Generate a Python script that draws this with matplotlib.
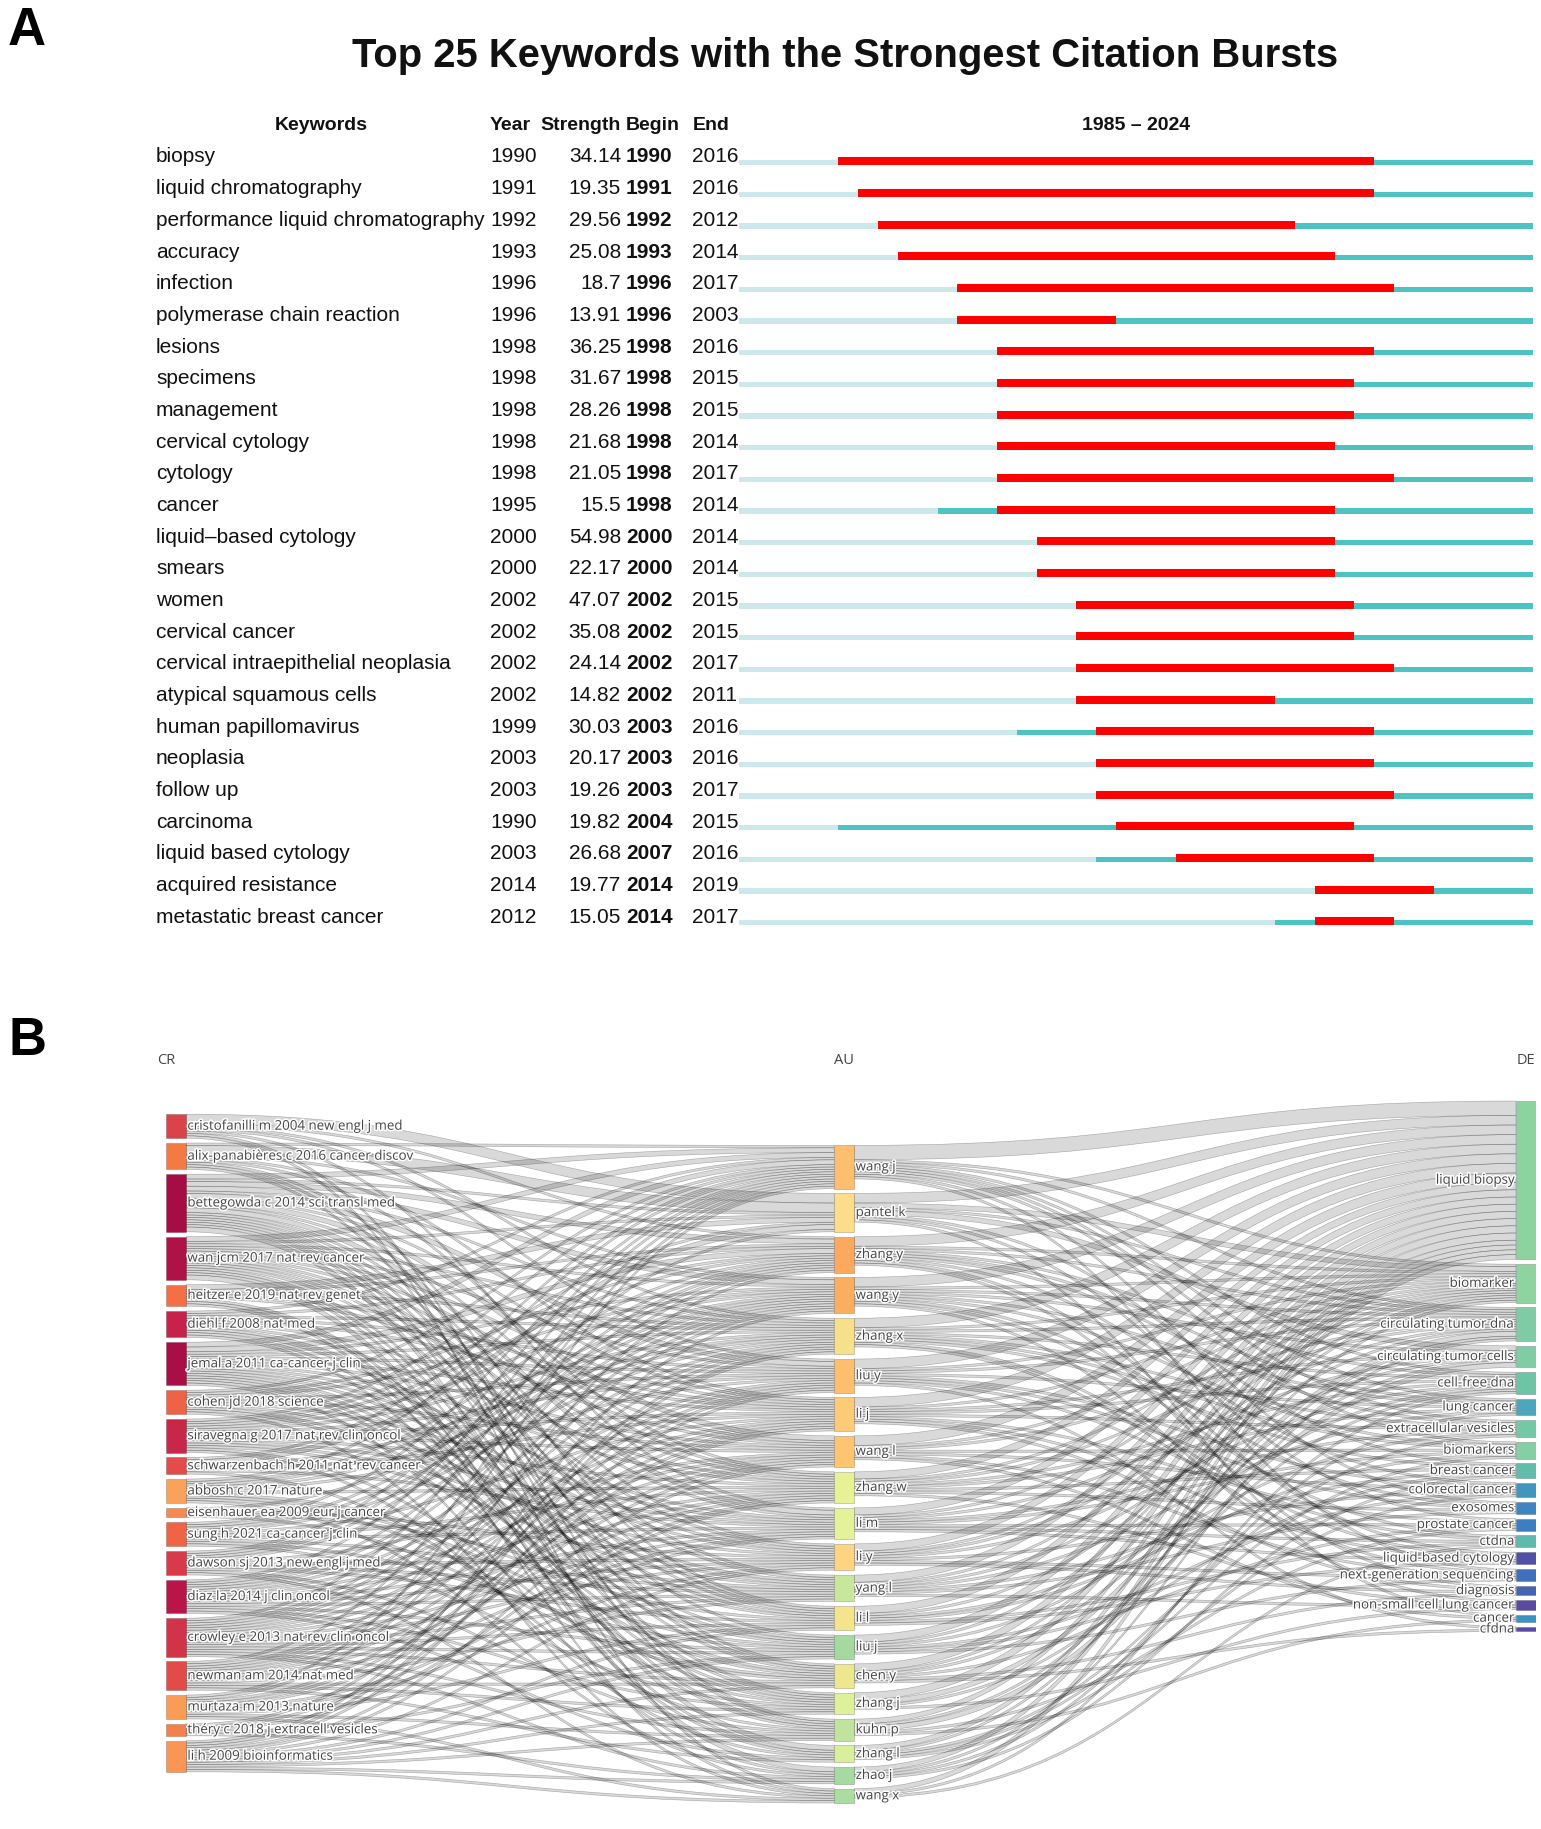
import numpy as np
import matplotlib
matplotlib.use("Agg")
import matplotlib.pyplot as plt
import matplotlib.transforms as mtransforms
import matplotlib.patheffects as pe
from matplotlib.path import Path
from matplotlib.patches import PathPatch, Rectangle

# ---------------- panel A data ----------------
keywords = ["biopsy", "liquid chromatography", "performance liquid chromatography", "accuracy",
            "infection", "polymerase chain reaction", "lesions", "specimens", "management",
            "cervical cytology", "cytology", "cancer", "liquid\u2013based cytology", "smears",
            "women", "cervical cancer", "cervical intraepithelial neoplasia",
            "atypical squamous cells", "human papillomavirus", "neoplasia", "follow up",
            "carcinoma", "liquid based cytology", "acquired resistance", "metastatic breast cancer"]
kw_year = [1990, 1991, 1992, 1993, 1996, 1996, 1998, 1998, 1998, 1998, 1998, 1995, 2000,
           2000, 2002, 2002, 2002, 2002, 1999, 2003, 2003, 1990, 2003, 2014, 2012]
kw_strength = [34.14, 19.35, 29.56, 25.08, 18.7, 13.91, 36.25, 31.67, 28.26, 21.68, 21.05,
               15.5, 54.98, 22.17, 47.07, 35.08, 24.14, 14.82, 30.03, 20.17, 19.26, 19.82,
               26.68, 19.77, 15.05]
kw_begin = [1990, 1991, 1992, 1993, 1996, 1996, 1998, 1998, 1998, 1998, 1998, 1998, 2000,
            2000, 2002, 2002, 2002, 2002, 2003, 2003, 2003, 2004, 2007, 2014, 2014]
kw_end = [2016, 2016, 2012, 2014, 2017, 2003, 2016, 2015, 2015, 2014, 2017, 2014, 2014,
          2014, 2015, 2015, 2017, 2011, 2016, 2016, 2017, 2015, 2016, 2019, 2017]
span_start, span_end = 1985, 2024

# ---------------- panel B data ----------------
cr_names = ["cristofanilli m 2004 new engl j med", "alix-panabières c 2016 cancer discov",
            "bettegowda c 2014 sci transl med", "wan jcm 2017 nat rev cancer",
            "heitzer e 2019 nat rev genet", "diehl f 2008 nat med", "jemal a 2011 ca-cancer j clin",
            "cohen jd 2018 science", "siravegna g 2017 nat rev clin oncol",
            "schwarzenbach h 2011 nat rev cancer", "abbosh c 2017 nature",
            "eisenhauer ea 2009 eur j cancer", "sung h 2021 ca-cancer j clin",
            "dawson sj 2013 new engl j med", "diaz la 2014 j clin oncol",
            "crowley e 2013 nat rev clin oncol", "newman am 2014 nat med",
            "murtaza m 2013 nature", "théry c 2018 j extracell vesicles", "li h 2009 bioinformatics"]
cr_colors = ["#D9444B", "#F47A44", "#A50D44", "#AE1247", "#F46F43", "#C6224A", "#A90F47",
             "#EE6345", "#C92748", "#E34D47", "#FBA25A", "#F48A4F", "#EF6445", "#D83A4A",
             "#B91548", "#D0334A", "#E14B48", "#F99C56", "#F4814B", "#F99655"]

au_names = ["wang j", "pantel k", "zhang y", "wang y", "zhang x", "liu y", "li j", "wang l",
            "zhang w", "li m", "li y", "yang l", "li l", "liu j", "chen y", "zhang j", "kuhn p",
            "zhang l", "zhao j", "wang x"]
au_colors = ["#FDBF6F", "#FBDD8B", "#FCA85E", "#FCAE60", "#F6E08C", "#FDBF6D", "#FDCB78",
             "#FDC472", "#E9F197", "#E4F29A", "#FDD582", "#C6E79C", "#F4E48C", "#A4DA9F",
             "#EFE78F", "#DEF09A", "#C0E49E", "#D9EF9B", "#A5DAA0", "#ABDCA0"]

de_names = ["liquid biopsy", "biomarker", "circulating tumor dna", "circulating tumor cells",
            "cell-free dna", "lung cancer", "extracellular vesicles", "biomarkers",
            "breast cancer", "colorectal cancer", "exosomes", "prostate cancer", "ctdna",
            "liquid-based cytology", "next-generation sequencing", "diagnosis",
            "non-small cell lung cancer", "cancer", "cfdna"]
de_colors = ["#8DD3A0", "#8FD4A0", "#7ECBA5", "#7FCCA5", "#6EC5A5", "#4EA6BC", "#75C8A5",
             "#84CFA3", "#62BCAB", "#4196C0", "#3F86C0", "#3D7EC0", "#5EBAAD", "#5050A8",
             "#416FBB", "#4565B3", "#5B4AA3", "#3A93C0", "#5A4CA4"]

# link weights, rows = cited reference, columns = author (order as au_names)
cr_au = np.array([
    [0, 4, 1, 0, 1, 1, 0, 0, 0, 1, 0, 0, 0, 0, 0, 0, 1, 0, 0, 1],
    [1, 4, 0, 1, 0, 0, 1, 0, 1, 0, 0, 0, 1, 0, 1, 0, 1, 0, 0, 0],
    [2, 1, 2, 2, 1, 2, 1, 2, 1, 2, 1, 1, 1, 1, 1, 1, 0, 2, 0, 0],
    [2, 1, 0, 1, 1, 1, 1, 1, 1, 1, 1, 1, 1, 0, 1, 1, 1, 0, 2, 0],
    [0, 2, 1, 0, 1, 0, 1, 1, 0, 0, 0, 0, 0, 0, 0, 0, 1, 1, 0, 1],
    [1, 0, 1, 0, 1, 1, 1, 0, 1, 0, 1, 0, 1, 1, 0, 1, 0, 1, 0, 0],
    [2, 0, 2, 1, 1, 1, 1, 1, 1, 1, 1, 1, 1, 1, 1, 1, 0, 0, 1, 0],
    [1, 0, 1, 1, 0, 1, 0, 1, 0, 1, 0, 1, 0, 1, 1, 0, 0, 0, 0, 1],
    [1, 1, 1, 1, 1, 1, 1, 1, 1, 1, 1, 1, 0, 0, 0, 1, 0, 1, 0, 0],
    [1, 2, 0, 0, 1, 0, 1, 0, 0, 1, 0, 0, 0, 0, 0, 0, 1, 0, 0, 0],
    [1, 0, 1, 1, 1, 1, 0, 0, 1, 0, 0, 0, 1, 1, 1, 0, 0, 0, 1, 0],
    [0, 0, 0, 1, 0, 0, 0, 0, 0, 0, 1, 1, 0, 0, 1, 0, 0, 0, 0, 0],
    [1, 0, 1, 1, 1, 0, 1, 0, 1, 1, 0, 1, 0, 1, 0, 1, 0, 0, 0, 0],
    [1, 1, 1, 1, 0, 0, 0, 1, 0, 0, 1, 1, 1, 0, 0, 0, 1, 0, 0, 1],
    [1, 0, 1, 1, 1, 1, 1, 1, 1, 1, 1, 1, 0, 1, 0, 1, 0, 1, 0, 0],
    [1, 0, 1, 1, 1, 1, 1, 1, 1, 1, 1, 1, 1, 1, 1, 0, 1, 0, 1, 0],
    [1, 0, 0, 1, 1, 1, 1, 1, 1, 1, 0, 1, 0, 0, 1, 1, 0, 1, 0, 0],
    [1, 0, 1, 0, 0, 1, 1, 1, 0, 1, 1, 0, 1, 0, 0, 0, 1, 0, 0, 1],
    [0, 0, 0, 0, 1, 0, 1, 0, 1, 0, 0, 0, 0, 1, 0, 0, 0, 0, 1, 0],
    [0, 0, 0, 1, 1, 1, 0, 1, 1, 0, 1, 0, 1, 1, 1, 1, 1, 0, 1, 1],
])

# rows = author, columns = keyword (order as de_names)
au_de = np.array([
    [6, 1, 1, 0, 1, 1, 1, 1, 0, 0, 1, 0, 0, 0, 1, 0, 0, 0, 0],
    [4, 2, 1, 2, 0, 0, 0, 0, 1, 0, 0, 1, 0, 0, 0, 0, 0, 1, 0],
    [4, 1, 1, 0, 1, 1, 1, 0, 0, 1, 0, 0, 0, 1, 0, 1, 0, 0, 0],
    [4, 1, 1, 1, 0, 1, 0, 1, 0, 0, 1, 0, 1, 0, 0, 0, 1, 0, 0],
    [4, 1, 1, 0, 1, 0, 1, 1, 1, 0, 0, 0, 0, 1, 1, 0, 0, 0, 0],
    [4, 1, 1, 0, 0, 1, 0, 0, 0, 1, 1, 0, 1, 0, 0, 0, 0, 0, 1],
    [4, 1, 0, 1, 1, 0, 1, 0, 0, 0, 0, 1, 0, 1, 0, 1, 0, 0, 0],
    [4, 1, 1, 0, 0, 0, 0, 1, 0, 1, 0, 0, 0, 0, 1, 0, 0, 1, 0],
    [3, 1, 1, 0, 1, 1, 0, 0, 1, 0, 1, 0, 0, 0, 0, 0, 1, 0, 0],
    [3, 1, 0, 1, 0, 0, 1, 1, 0, 0, 0, 1, 1, 1, 0, 0, 0, 0, 0],
    [3, 1, 1, 0, 1, 0, 0, 0, 0, 1, 0, 0, 0, 0, 1, 1, 0, 0, 0],
    [3, 1, 0, 1, 0, 1, 0, 0, 1, 0, 1, 0, 0, 0, 0, 0, 1, 0, 0],
    [3, 0, 1, 0, 0, 0, 1, 1, 0, 0, 0, 0, 1, 1, 0, 0, 0, 0, 0],
    [3, 1, 0, 0, 1, 0, 0, 0, 0, 1, 0, 1, 0, 0, 1, 0, 0, 0, 0],
    [3, 1, 0, 1, 0, 0, 0, 0, 1, 0, 0, 0, 0, 0, 0, 1, 0, 0, 1],
    [3, 0, 2, 0, 1, 0, 0, 0, 0, 0, 0, 0, 0, 0, 0, 0, 1, 0, 0],
    [2, 0, 1, 2, 0, 0, 0, 0, 0, 0, 0, 1, 0, 0, 0, 0, 0, 1, 0],
    [2, 1, 0, 0, 0, 0, 1, 1, 0, 1, 0, 0, 0, 0, 0, 0, 0, 0, 0],
    [2, 0, 1, 0, 0, 1, 0, 0, 1, 0, 0, 0, 0, 0, 0, 0, 0, 0, 0],
    [2, 0, 0, 0, 1, 0, 0, 0, 0, 0, 0, 0, 1, 0, 0, 0, 0, 0, 0],
])

W, H = 1541, 1829
fig = plt.figure(figsize=(W / 100, H / 100), dpi=100)
fig.patch.set_facecolor("white")


def fx(px):
    return px / W


def fy(py):
    return 1 - py / H


# ================= Panel A =================
fig.text(fx(8), fy(6), "A", fontsize=38, fontweight="bold", va="top", ha="left",
         family="Liberation Sans")
fig.text(fx(845), fy(56), "Top 25 Keywords with the Strongest Citation Bursts", fontsize=28.8,
         fontweight="bold", va="center", ha="center", family="Liberation Sans", color="#111111")

row_px = 31.67
top_px = 157 - row_px / 2
n = len(keywords)
ax_a = fig.add_axes([fx(739), fy(top_px + n * row_px), fx(1533) - fx(739), n * row_px / H])
ax_a.set_xlim(span_start, span_end + 1)
ax_a.set_ylim(n - 0.5, -0.5)
ax_a.axis("off")

light = "#CDE8EB"
teal = "#4EC3C3"
red = "#FF0000"
for i in range(n):
    ax_a.barh(i + 0.18, kw_year[i] - span_start, left=span_start, height=0.17, color=light, lw=0)
    ax_a.barh(i + 0.18, span_end + 1 - kw_year[i], left=kw_year[i], height=0.17, color=teal, lw=0)
    ax_a.barh(i + 0.136, kw_end[i] + 1 - kw_begin[i], left=kw_begin[i], height=0.25, color=red, lw=0)

tr = mtransforms.blended_transform_factory(fig.transFigure, ax_a.transData)
tfont = dict(family="Liberation Sans", fontsize=15, va="center", color="#111111")
for i in range(n):
    ax_a.text(fx(156), i, keywords[i], transform=tr, ha="left", **tfont)
    ax_a.text(fx(490), i, str(kw_year[i]), transform=tr, ha="left", **tfont)
    ax_a.text(fx(621), i, f"{kw_strength[i]:g}", transform=tr, ha="right", **tfont)
    ax_a.text(fx(626), i, str(kw_begin[i]), transform=tr, ha="left", fontweight="bold", **tfont)
    ax_a.text(fx(692), i, str(kw_end[i]), transform=tr, ha="left", **tfont)

hfont = dict(family="Liberation Sans", fontsize=14, va="center", fontweight="bold", color="#111111")
hy = -1.01
ax_a.text(fx(321), hy, "Keywords", transform=tr, ha="center", **hfont)
ax_a.text(fx(490), hy, "Year", transform=tr, ha="left", **hfont)
ax_a.text(fx(540), hy, "Strength", transform=tr, ha="left", **hfont)
ax_a.text(fx(626), hy, "Begin", transform=tr, ha="left", **hfont)
ax_a.text(fx(693), hy, "End", transform=tr, ha="left", **hfont)
ax_a.text((span_start + span_end + 1) / 2, hy, f"{span_start} \u2013 {span_end}", ha="center", **hfont)

# ================= Panel B =================
fig.text(fx(8), fy(1016), "B", fontsize=38, fontweight="bold", va="top", ha="left",
         family="Liberation Sans")

px_unit = 2.4
b_top, b_bot = 1095, 1826
node_w = 0.0297
col_x = [0.0, 0.99, 2.0]
ax_b = fig.add_axes([fx(166), fy(b_bot), fx(1536) - fx(166), (b_bot - b_top) / H])
ax_b.set_xlim(0, 2 + node_w)
ax_b.set_ylim((b_bot - b_top) / px_unit, 0)
ax_b.axis("off")

pad = 2.0
col_top = [8.0, 21.0, 2.5]
cr_val = cr_au.sum(axis=1)
au_val = np.maximum(cr_au.sum(axis=0), au_de.sum(axis=1))
de_val = au_de.sum(axis=0)


def stack(vals, top):
    return top + np.concatenate([[0], np.cumsum(vals[:-1] + pad)])


cr_y = stack(cr_val, col_top[0])
au_y = stack(au_val, col_top[1])
de_y = stack(de_val, col_top[2])

link_face = (0.0, 0.0, 0.0, 0.15)
link_edge = (0.0, 0.0, 0.0, 0.30)


def draw_links(mat, src_y, dst_y, x0, x1):
    out_off = src_y.astype(float).copy()
    in_off = dst_y.astype(float).copy()
    xm = (x0 + x1) / 2
    for s in range(mat.shape[0]):
        for t in range(mat.shape[1]):
            v = mat[s, t]
            if v <= 0:
                continue
            ys, yt = out_off[s], in_off[t]
            verts = [(x0, ys), (xm, ys), (xm, yt), (x1, yt), (x1, yt + v),
                     (xm, yt + v), (xm, ys + v), (x0, ys + v), (x0, ys)]
            codes = [Path.MOVETO, Path.CURVE4, Path.CURVE4, Path.CURVE4, Path.LINETO,
                     Path.CURVE4, Path.CURVE4, Path.CURVE4, Path.CLOSEPOLY]
            ax_b.add_patch(PathPatch(Path(verts, codes), facecolor=link_face,
                                     edgecolor=link_edge, lw=0.4))
            out_off[s] += v
            in_off[t] += v


draw_links(cr_au, cr_y, au_y, col_x[0] + node_w, col_x[1])
draw_links(au_de, au_y, de_y, col_x[1] + node_w, col_x[2])

halo = [pe.withStroke(linewidth=2.2, foreground="white")]
lfont = dict(family="Open Sans", fontsize=9.6, color="#444444", va="center")


def draw_nodes(x, ys, vals, colors, names, side):
    for y, v, c, name in zip(ys, vals, colors, names):
        ax_b.add_patch(Rectangle((x, y), node_w, v, facecolor=c, edgecolor=(0, 0, 0, 0.25), lw=0.5))
        if side == "right":
            ax_b.text(x + node_w + 0.002, y + v / 2, name, ha="left", path_effects=halo, **lfont)
        else:
            ax_b.text(x - 0.002, y + v / 2, name, ha="right", path_effects=halo, **lfont)


draw_nodes(col_x[0], cr_y, cr_val, cr_colors, cr_names, "right")
draw_nodes(col_x[1], au_y, au_val, au_colors, au_names, "right")
draw_nodes(col_x[2], de_y, de_val, de_colors, de_names, "left")

cy_lab = (1060 - b_top) / px_unit
cfont = dict(family="Open Sans", fontsize=10.5, color="#444444", va="center", ha="center")
ax_b.text(col_x[0], cy_lab, "CR", **cfont)
ax_b.text(col_x[1] + node_w / 2, cy_lab, "AU", **cfont)
ax_b.text(col_x[2] + node_w / 2, cy_lab, "DE", **cfont)

fig.savefig("out.png", dpi=100, facecolor="white")
